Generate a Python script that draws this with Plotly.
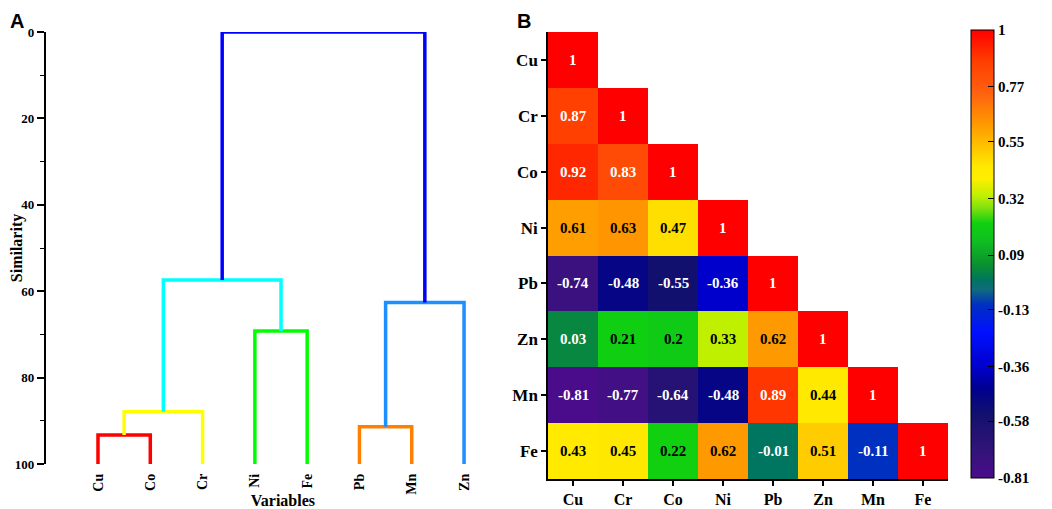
import plotly.graph_objects as go

# --- data ---------------------------------------------------------------
leaves = ["Cu", "Co", "Cr", "Ni", "Fe", "Pb", "Mn", "Zn"]
# merges: (left node, right node, similarity level, colour)
merges = [
    ("Cu", "Co", 93.3, "#ff0000"),
    ("Cu+Co", "Cr", 87.9, "#ffff00"),
    ("Ni", "Fe", 69.2, "#00ff00"),
    ("Pb", "Mn", 91.4, "#ff8000"),
    ("Pb+Mn", "Zn", 62.6, "#1e8fff"),
    ("Cu+Co+Cr", "Ni+Fe", 57.4, "#00ffff"),
    ("Cu+Co+Cr+Ni+Fe", "Pb+Mn+Zn", 0.0, "#0000ff"),
]
sim_ticks = [0, 20, 40, 60, 80, 100]

elements = ["Cu", "Cr", "Co", "Ni", "Pb", "Zn", "Mn", "Fe"]
corr_rows = [
    [1],
    [0.87, 1],
    [0.92, 0.83, 1],
    [0.61, 0.63, 0.47, 1],
    [-0.74, -0.48, -0.55, -0.36, 1],
    [0.03, 0.21, 0.2, 0.33, 0.62, 1],
    [-0.81, -0.77, -0.64, -0.48, 0.89, 0.44, 1],
    [0.43, 0.45, 0.22, 0.62, -0.01, 0.51, -0.11, 1],
]
cbar_vals = [1, 0.77, 0.55, 0.32, 0.09, -0.13, -0.36, -0.58, -0.81]

# colour stops (value, colour) for the correlation map
stops = [
    (-0.81, "#4b0c8c"), (-0.70, "#321478"), (-0.55, "#12106e"),
    (-0.45, "#000090"), (-0.36, "#0000cc"), (-0.22, "#0010ff"),
    (-0.11, "#0030c0"), (-0.05, "#106a80"), (-0.01, "#007560"),
    (0.05, "#0a9030"), (0.15, "#10c020"), (0.22, "#10d010"),
    (0.28, "#80e010"), (0.33, "#bff000"), (0.40, "#ffee00"),
    (0.45, "#ffe800"), (0.51, "#ffcc00"), (0.62, "#ff9900"),
    (0.75, "#ff6010"), (0.87, "#ff4000"), (1.0, "#ff0000"),
]

SERIF = "Liberation Serif"
OFF = 8  # page body margin
W, H = 1052 - OFF, 509 - OFF


def px_x(p):
    return (p - OFF) / W


def px_y(p):
    return 1 - (p - OFF) / H


fig = go.Figure()

# --- panel A: dendrogram --------------------------------------------------
nodes = {name: (i + 1, 100.0) for i, name in enumerate(leaves)}
for left, right, level, colour in merges:
    xl, hl = nodes[left]
    xr, hr = nodes[right]
    fig.add_trace(go.Scatter(
        x=[xl, xl, xr, xr], y=[hl, level, level, hr],
        mode="lines", line=dict(color=colour, width=3.5),
        xaxis="x", yaxis="y", showlegend=False, hoverinfo="skip"))
    nodes[left + "+" + right] = ((xl + xr) / 2, level)

# --- panel B: correlation heatmap -------------------------------------------
n = len(elements)
z = [row + [None] * (n - len(row)) for row in corr_rows]
zmin, zmax = cbar_vals[-1], cbar_vals[0]
cscale = [[(v - zmin) / (zmax - zmin), c] for v, c in stops]

fig.add_trace(go.Heatmap(
    z=z, x=elements, y=elements, xaxis="x2", yaxis="y2",
    zmin=zmin, zmax=zmax, colorscale=cscale, hoverongaps=False,
    colorbar=dict(
        x=px_x(971), xanchor="left", y=px_y(30), yanchor="top",
        xpad=0, ypad=0,
        len=448 / H, lenmode="fraction", thickness=23,
        outlinecolor="black", outlinewidth=1,
        tickvals=cbar_vals, ticktext=[str(v) for v in cbar_vals],
        ticks="inside", ticklen=6, tickcolor="black",
        tickfont=dict(family=SERIF, size=15, color="black", weight="bold"),
    ),
))

annotations = []
for i, row in enumerate(corr_rows):
    for j, v in enumerate(row):
        col = "white" if (v < 0.1 or v > 0.7) else "black"
        annotations.append(dict(
            x=elements[j], y=elements[i], xref="x2", yref="y2",
            text=str(v), showarrow=False,
            font=dict(family=SERIF, size=15, color=col, weight="bold")))

annotations += [
    dict(x=0, y=1, xref="paper", yref="paper", xanchor="left", yanchor="top",
         yshift=0, text="<b>A</b>", showarrow=False,
         font=dict(family="Liberation Sans", size=20, color="black")),
    dict(x=px_x(515), y=1, xref="paper", yref="paper", xanchor="left",
         yanchor="top", yshift=0, text="<b>B</b>", showarrow=False,
         font=dict(family="Liberation Sans", size=20, color="black")),
]

tick_font = dict(family=SERIF, size=13, color="black", weight="bold")
title_font = dict(family=SERIF, size=16, color="black", weight="bold")

fig.update_layout(
    width=W, height=H,
    margin=dict(l=0, r=0, t=0, b=0),
    paper_bgcolor="white", plot_bgcolor="white",
    annotations=annotations,
    xaxis=dict(
        domain=[px_x(45.7), px_x(520)], range=[0, 9.07], automargin=False,
        tickvals=list(range(1, len(leaves) + 1)), ticktext=leaves,
        tickangle=-90, tickfont=dict(family=SERIF, size=14, color="black", weight="bold"),
        showgrid=False, zeroline=False, showline=False,
        ticks="", ticklabelstandoff=6,
        title=dict(text="Variables", font=title_font, standoff=8),
    ),
    yaxis=dict(
        domain=[px_y(464), px_y(32)], range=[100, 0], automargin=False,
        tickvals=sim_ticks, tickfont=tick_font,
        showgrid=False, zeroline=False, showline=True,
        linecolor="black", linewidth=1.5,
        ticks="outside", ticklen=7, tickwidth=1.5, tickcolor="black",
        minor=dict(dtick=10, ticks="outside", ticklen=4, tickwidth=1.2,
                   tickcolor="black", showgrid=False),
        title=dict(text="Similarity", font=title_font, standoff=6),
    ),
    xaxis2=dict(
        domain=[px_x(548), px_x(948)], anchor="y2", automargin=False,
        tickfont=dict(family=SERIF, size=16, color="black", weight="bold"),
        showgrid=False, zeroline=False, showline=True,
        linecolor="black", linewidth=1.5,
        ticks="outside", ticklen=5, tickwidth=1.5, tickcolor="black",
    ),
    yaxis2=dict(
        domain=[px_y(479), px_y(32)], anchor="x2", autorange="reversed",
        automargin=False,
        tickfont=dict(family=SERIF, size=17, color="black", weight="bold"),
        showgrid=False, zeroline=False, showline=True,
        linecolor="black", linewidth=1.5,
        ticks="outside", ticklen=5, tickwidth=1.5, tickcolor="black",
    ),
)

fig.write_html("out.html")
